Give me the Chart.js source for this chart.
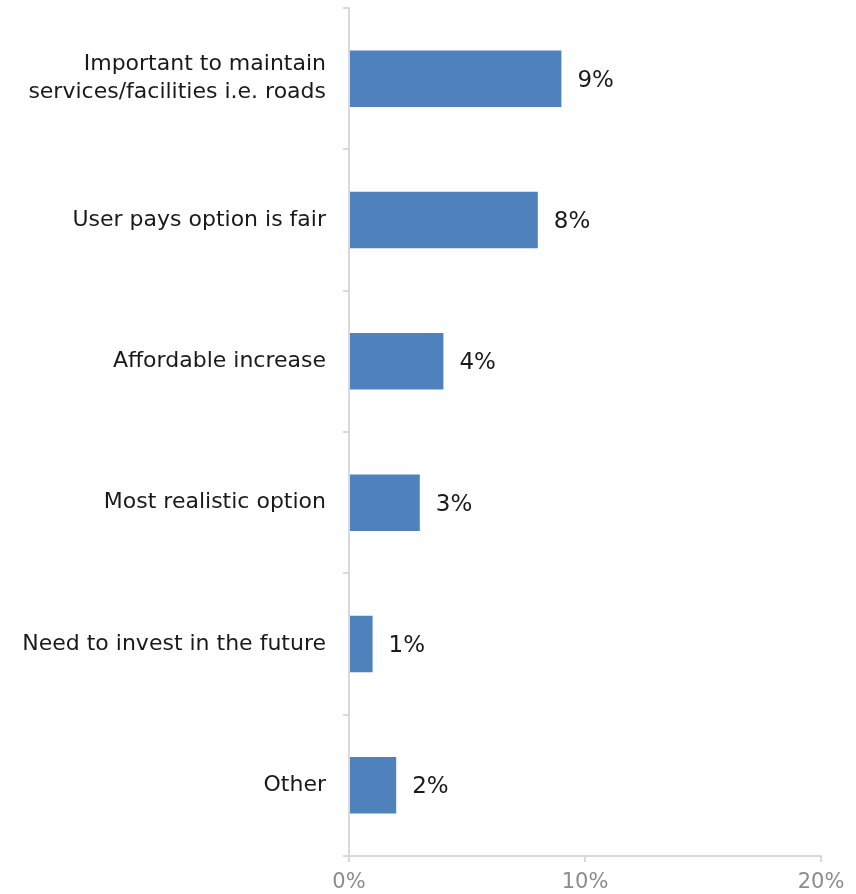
<!DOCTYPE html>
<html>
<head>
<meta charset="utf-8">
<script src="https://cdn.jsdelivr.net/npm/chart.js@4"></script>
<style>
  html, body { margin: 0; padding: 0; background: #fff; }
  #wrap { width: 856px; height: 894px; }
</style>
</head>
<body>
<div id="wrap"><canvas id="chart" width="856" height="894"></canvas></div>
<script>
const categories = [
    ['Important to maintain', 'services/facilities i.e. roads'],
    'User pays option is fair',
    'Affordable increase',
    'Most realistic option',
    'Need to invest in the future',
    'Other'
];
const values = [9, 8, 4, 3, 1, 2];
const xTicks = [0, 10, 20];

const FONT = "'DejaVu Sans', sans-serif";

// value labels at the end of each bar
const valueLabels = {
    id: 'valueLabels',
    afterDatasetsDraw(chart) {
        const ctx = chart.ctx;
        const meta = chart.getDatasetMeta(0);
        ctx.save();
        ctx.font = '23px ' + FONT;
        ctx.fillStyle = '#1a1a1a';
        ctx.textAlign = 'left';
        ctx.textBaseline = 'middle';
        meta.data.forEach((bar, i) => {
            ctx.fillText(values[i] + '%', bar.x + 16, bar.y + 2);
        });
        ctx.restore();
    }
};

new Chart(document.getElementById('chart').getContext('2d'), {
    type: 'bar',
    data: {
        labels: categories,
        datasets: [{
            data: values,
            backgroundColor: '#4f81bd',
            categoryPercentage: 1,
            barPercentage: 0.4
        }]
    },
    options: {
        indexAxis: 'y',
        responsive: false,
        animation: false,
        layout: { padding: { top: 8, right: 35, left: 0, bottom: 0 } },
        plugins: {
            legend: { display: false },
            tooltip: { enabled: false }
        },
        scales: {
            x: {
                min: 0,
                max: 20,
                afterBuildTicks(scale) {
                    scale.ticks = xTicks.map(v => ({ value: v }));
                },
                afterFit(scale) {
                    scale.height = 38;
                    scale.paddingLeft = 0;
                    scale.paddingRight = 0;
                },
                border: { color: '#d9d9d9', width: 2 },
                grid: { drawOnChartArea: false, tickLength: 6, color: '#d9d9d9', lineWidth: 2 },
                ticks: {
                    padding: 8,
                    color: '#8c8c8c',
                    font: { family: FONT, size: 21 },
                    callback: v => v + '%'
                }
            },
            y: {
                afterFit(scale) {
                    scale.width = 349;
                    scale.paddingTop = 0;
                    scale.paddingBottom = 0;
                },
                border: { color: '#d9d9d9', width: 2 },
                grid: { drawOnChartArea: false, tickLength: 6, color: '#d9d9d9', lineWidth: 2, offset: true },
                ticks: {
                    padding: 17,
                    color: '#1a1a1a',
                    font: { family: FONT, size: 22, lineHeight: 1.28 }
                }
            }
        }
    },
    plugins: [valueLabels]
});
</script>
</body>
</html>
